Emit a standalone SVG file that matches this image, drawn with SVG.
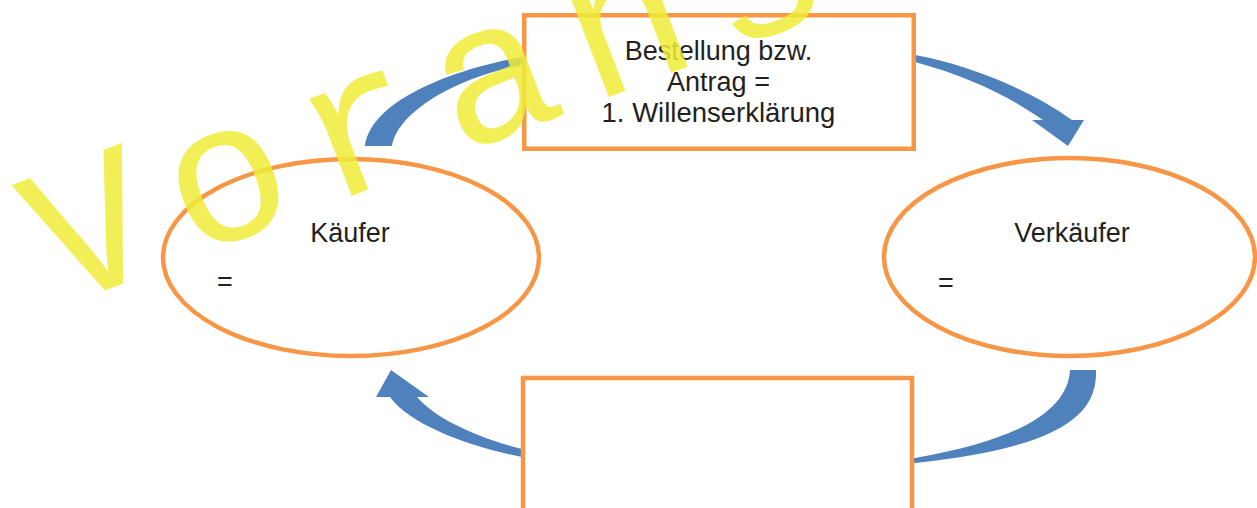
<svg xmlns="http://www.w3.org/2000/svg" width="1257" height="508" viewBox="0 0 1257 508">
<style>
.box{fill:#fff;stroke:#F79646;stroke-width:4.5}
.ell{fill:#fff;stroke:#F79646;stroke-width:4.5}
.arr{fill:#4F81BD;stroke:none}
.t{font-family:"Liberation Sans",Arial,sans-serif;font-size:27px;fill:#231F20}
.wm{font-family:"Liberation Mono","Courier New",monospace;font-size:200px;letter-spacing:23px;fill:#EEEC37;fill-opacity:0.85}
</style>
<rect width="1257" height="508" fill="#fff"/>
<g id="connectors">
<path class="arr" d="M 365 146 C 370 105, 440 72, 522 57 C 650 30, 800 35, 915 55 C 970 65, 1030 90, 1072 120 L 1084 120 L 1068 146 L 1032 120 L 1043 120 C 1010 97, 970 77, 915 62 C 800 45, 650 45, 522 65 C 455 78, 398 112, 392 146 Z"/>
<path class="arr" d="M 1096 370 C 1098 420, 1050 448, 915 463 C 800 480, 620 475, 522 457 C 470 447, 410 425, 390 397 L 376 397 L 391 370 L 429 397 L 417 397 C 435 418, 475 437, 522 449 C 620 468, 800 470, 915 458 C 1020 440, 1068 410, 1070 370 Z"/>
</g>
<g id="antrag">
<rect class="box" x="524.25" y="15.25" width="389.5" height="133.5"/>
<text class="t" x="718.5" y="60" text-anchor="middle">Bestellung bzw.</text>
<text class="t" x="718.5" y="91" text-anchor="middle">Antrag =</text>
<text class="t" x="718.5" y="122" text-anchor="middle" style="font-size:27.5px">1. Willenserklärung</text>
</g>
<g id="annahme">
<rect class="box" x="523" y="378" width="389" height="140"/>
</g>
<g id="kaeufer">
<ellipse class="ell" cx="351" cy="257.5" rx="188" ry="98.5"/>
<text class="t" x="350" y="242" text-anchor="middle">Käufer</text>
<text class="t" x="217" y="291">=</text>
</g>
<g id="verkaeufer">
<ellipse class="ell" cx="1069.5" cy="257" rx="185.5" ry="99"/>
<text class="t" x="1072" y="242" text-anchor="middle">Verkäufer</text>
<text class="t" x="938" y="292">=</text>
</g>
<text class="wm" x="58" y="308.5" transform="rotate(-21 58 308.5)">Voransicht</text>
</svg>
